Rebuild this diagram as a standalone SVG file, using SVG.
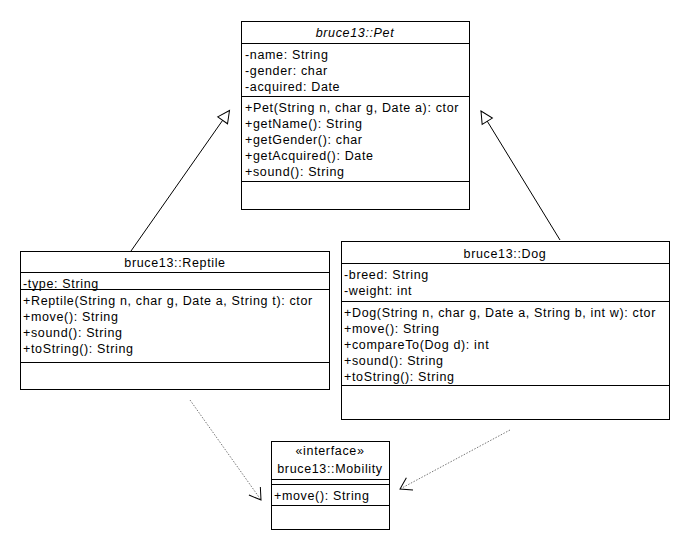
<svg xmlns="http://www.w3.org/2000/svg" width="690" height="550" viewBox="0 0 690 550">
  <style>
    .box { fill: #fff; stroke: #000; stroke-width: 1; }
    .sep { stroke: #000; stroke-width: 1; }
    text { font-family: "Liberation Sans", Arial, sans-serif; font-size: 12.5px; letter-spacing: 0.65px; fill: #000; }
    .title { text-anchor: middle; }
    .abstract { font-style: italic; }
    .gen { stroke: #000; stroke-width: 1; fill: none; marker-end: url(#hollowTri); }
    .dep { stroke: #777; stroke-width: 1; fill: none; stroke-dasharray: 1.5 1.5; marker-end: url(#openArrow); }
  </style>
  <defs>
    <marker id="hollowTri" viewBox="0 0 12 12" refX="12" refY="6" markerWidth="12" markerHeight="12" markerUnits="userSpaceOnUse" orient="auto" overflow="visible">
      <path d="M0,0 L12,6 L0,12 Z" fill="#fff" stroke="#000" stroke-width="1"/>
    </marker>
    <marker id="openArrow" viewBox="0 0 12 14" refX="11" refY="7" markerWidth="12" markerHeight="14" markerUnits="userSpaceOnUse" orient="auto" overflow="visible">
      <path d="M0,0 L11,7 L0,14" fill="none" stroke="#000" stroke-width="1" stroke-dasharray="none"/>
    </marker>
  </defs>

  <!-- connectors -->
  <g id="connectors">
    <path class="gen" d="M131,251 L229.5,110.5"/>
    <path class="gen" d="M560,240 L481,111"/>
    <path class="dep" d="M190,400 L261,500"/>
    <path class="dep" d="M510,430 L400,489"/>
  </g>

  <!-- abstract base class -->
  <g id="pet">
    <rect class="box" x="241.5" y="21.5" width="228" height="188"/>
    <line class="sep" x1="241.5" y1="43.5" x2="469.5" y2="43.5"/>
    <line class="sep" x1="241.5" y1="96.5" x2="469.5" y2="96.5"/>
    <line class="sep" x1="241.5" y1="181.5" x2="469.5" y2="181.5"/>
    <text class="title abstract" x="355" y="37">bruce13::Pet</text>
    <text x="245" y="59">-name: String</text>
    <text x="245" y="75">-gender: char</text>
    <text x="245" y="91">-acquired: Date</text>
    <text x="245" y="112">+Pet(String n, char g, Date a): ctor</text>
    <text x="245" y="128">+getName(): String</text>
    <text x="245" y="144">+getGender(): char</text>
    <text x="245" y="160">+getAcquired(): Date</text>
    <text x="245" y="176">+sound(): String</text>
  </g>

  <g id="reptile">
    <rect class="box" x="20.5" y="251.5" width="309" height="138"/>
    <line class="sep" x1="20.5" y1="272.5" x2="329.5" y2="272.5"/>
    <line class="sep" x1="20.5" y1="289.5" x2="329.5" y2="289.5"/>
    <line class="sep" x1="20.5" y1="362.5" x2="329.5" y2="362.5"/>
    <text class="title" x="175" y="267">bruce13::Reptile</text>
    <text x="23" y="288">-type: String</text>
    <text x="23" y="305">+Reptile(String n, char g, Date a, String t): ctor</text>
    <text x="23" y="321">+move(): String</text>
    <text x="23" y="337">+sound(): String</text>
    <text x="23" y="353">+toString(): String</text>
  </g>

  <g id="dog">
    <rect class="box" x="341.5" y="241.5" width="328" height="178"/>
    <line class="sep" x1="341.5" y1="263.5" x2="669.5" y2="263.5"/>
    <line class="sep" x1="341.5" y1="301.5" x2="669.5" y2="301.5"/>
    <line class="sep" x1="341.5" y1="385.5" x2="669.5" y2="385.5"/>
    <text class="title" x="505" y="258">bruce13::Dog</text>
    <text x="344" y="279">-breed: String</text>
    <text x="344" y="295">-weight: int</text>
    <text x="344" y="317">+Dog(String n, char g, Date a, String b, int w): ctor</text>
    <text x="344" y="333">+move(): String</text>
    <text x="344" y="349">+compareTo(Dog d): int</text>
    <text x="344" y="365">+sound(): String</text>
    <text x="344" y="381">+toString(): String</text>
  </g>

  <g id="mobility">
    <rect class="box" x="271.5" y="441.5" width="118" height="88"/>
    <line class="sep" x1="271.5" y1="479.5" x2="389.5" y2="479.5"/>
    <line class="sep" x1="271.5" y1="484.5" x2="389.5" y2="484.5"/>
    <line class="sep" x1="271.5" y1="505.5" x2="389.5" y2="505.5"/>
    <text class="title" x="330" y="455">«interface»</text>
    <text class="title" x="330" y="473">bruce13::Mobility</text>
    <text x="274" y="500">+move(): String</text>
  </g>
</svg>
